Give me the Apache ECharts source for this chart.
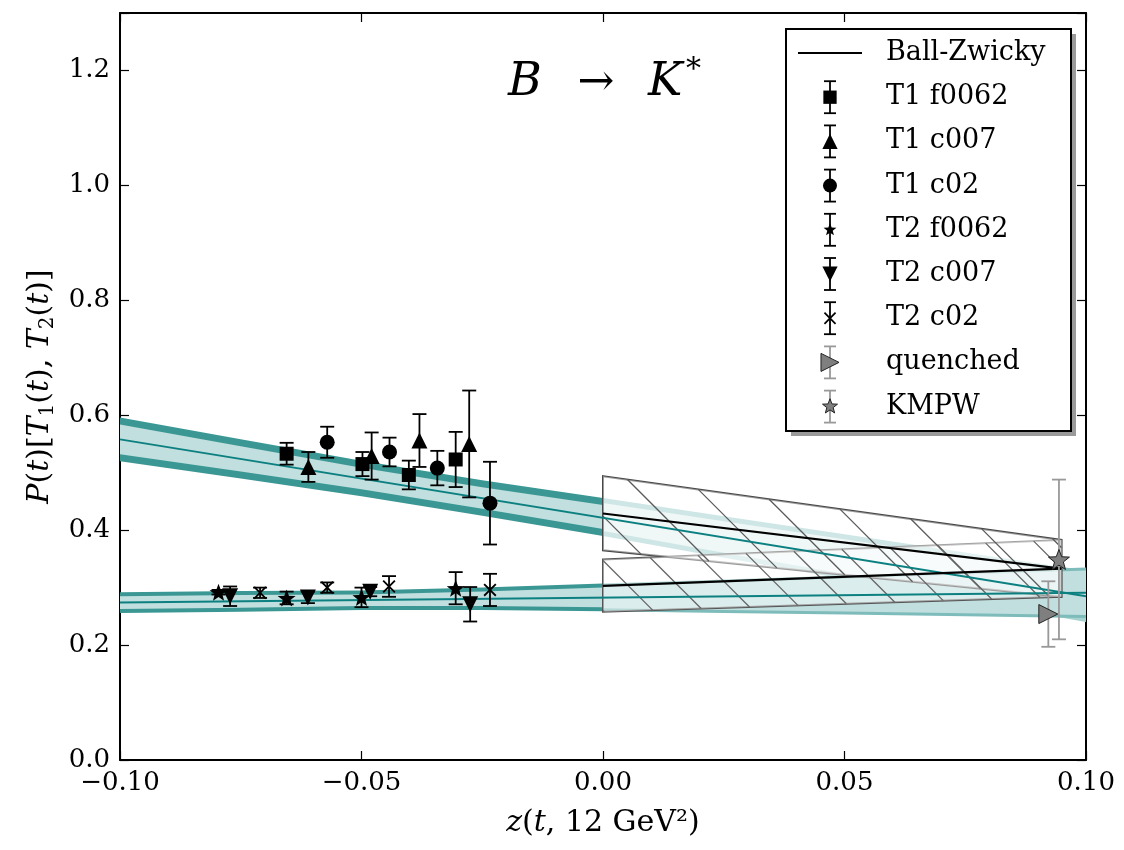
<!DOCTYPE html>
<html>
<head>
<meta charset="utf-8">
<script src="https://cdn.jsdelivr.net/npm/echarts@6/dist/echarts.min.js"></script>
<style>
  html, body { margin: 0; padding: 0; background: #fff; }
  #chart { width: 1124px; height: 850px; }
</style>
</head>
<body>
<div id="chart"></div>
<script>
// ---------------- data ----------------
const xTicks = [-0.10, -0.05, 0.00, 0.05, 0.10];
const yTicks = [0.0, 0.2, 0.4, 0.6, 0.8, 1.0, 1.2];

// lattice points: [z, value, error]
const t1_f0062 = [[-0.0655, 0.533, 0.019], [-0.0498, 0.515, 0.021], [-0.0402, 0.496, 0.025], [-0.0305, 0.523, 0.048]];
const t1_c007  = [[-0.0610, 0.510, 0.026], [-0.0479, 0.529, 0.041], [-0.0380, 0.556, 0.046], [-0.0277, 0.550, 0.093]];
const t1_c02   = [[-0.0571, 0.553, 0.027], [-0.0442, 0.536, 0.025], [-0.0343, 0.508, 0.030], [-0.0234, 0.447, 0.072]];
const t2_f0062 = [[-0.0796, 0.292, 0.004], [-0.0655, 0.282, 0.011], [-0.0500, 0.283, 0.017], [-0.0305, 0.299, 0.028]];
const t2_c007  = [[-0.0772, 0.285, 0.017], [-0.0611, 0.283, 0.010], [-0.0482, 0.293, 0.008], [-0.0275, 0.271, 0.030]];
const t2_c02   = [[-0.0710, 0.291, 0.009], [-0.0571, 0.300, 0.009], [-0.0443, 0.302, 0.018], [-0.0234, 0.296, 0.028]];
const quenched = [[0.0922, 0.254, 0.057]];
const kmpw     = [[0.0944, 0.349, 0.139]];

// z-expansion fit bands (upper / lower edge) and central lines
const bandZ   = [-0.100, -0.075, -0.050, -0.025, 0.000, 0.025, 0.050, 0.075, 0.100];
const t1Upper = [0.596, 0.558, 0.521, 0.487, 0.456, 0.424, 0.393, 0.361, 0.330];
const t1Lower = [0.520, 0.490, 0.459, 0.425, 0.390, 0.352, 0.315, 0.277, 0.240];
const t2Upper = [0.292, 0.294, 0.295, 0.300, 0.307, 0.314, 0.321, 0.328, 0.335];
const t2Lower = [0.256, 0.258, 0.261, 0.261, 0.259, 0.256, 0.253, 0.250, 0.247];
const fitZ      = [-0.100, 0.100];
const t1Central = [0.558, 0.285];
const t2Central = [0.274, 0.291];

// Ball-Zwicky light-cone sum rule ranges
const bzZ         = [0.000, 0.0949];
const bzT1Upper   = [0.494, 0.383];
const bzT1Lower   = [0.365, 0.284];
const bzT2Upper   = [0.349, 0.383];
const bzT2Lower   = [0.258, 0.284];
const bzT1Central = [0.429, 0.333];
const bzT2Central = [0.303, 0.333];

const legendLabels = ['Ball-Zwicky', 'T1 f0062', 'T1 c007', 'T1 c02', 'T2 f0062', 'T2 c007', 'T2 c02', 'quenched', 'KMPW'];

// ---------------- styling helpers ----------------
const FONT = '"DejaVu Serif", "Liberation Serif", serif';
const TEAL = '#0c8080';

function starPoly() {
  const pts = [];
  for (let i = 0; i < 10; i++) {
    const a = (-90 + 36 * i) * Math.PI / 180;
    const r = i % 2 === 0 ? 1 : 0.42;
    pts.push([r * Math.cos(a), r * Math.sin(a)]);
  }
  return pts;
}
function crossPoly(a) {
  return [[-1, -1 + a], [-1 + a, -1], [0, -a], [1 - a, -1], [1, -1 + a], [a, 0],
          [1, 1 - a], [1 - a, 1], [0, a], [-1 + a, 1], [-1, 1 - a], [-a, 0]];
}
const SHAPES = {
  square: [[-1, -1], [1, -1], [1, 1], [-1, 1]],
  triUp: [[0, -1], [1, 1], [-1, 1]],
  triDown: [[-1, -1], [1, -1], [0, 1]],
  triRight: [[-1, -1], [1, 0], [-1, 1]],
  star: starPoly(),
  cross: crossPoly(0.2)
};
function toPath(poly) {
  return 'path://' + poly.map((p, i) => (i ? 'L' : 'M') + ((p[0] + 1) * 50).toFixed(2) + ' ' + ((p[1] + 1) * 50).toFixed(2)).join(' ') + ' Z';
}

// filled band with darker stripes along both edges
function bandSeries(up, lo, i0, i1, stripeColor, fillColor, stripePx, z) {
  return {
    type: 'custom', coordinateSystem: 'cartesian2d', z: z, silent: true, clip: true,
    data: [[bandZ[i0], up[i0]]],
    renderItem: function (params, api) {
      const top = [], bot = [];
      for (let i = i0; i <= i1; i++) {
        top.push(api.coord([bandZ[i], up[i]]));
        bot.push(api.coord([bandZ[i], lo[i]]));
      }
      const outer = top.concat(bot.slice().reverse());
      const inner = top.map(p => [p[0], p[1] + stripePx]).concat(bot.map(p => [p[0], p[1] - stripePx]).reverse());
      return { type: 'group', children: [
        { type: 'polygon', shape: { points: outer }, style: { fill: stripeColor } },
        { type: 'polygon', shape: { points: inner }, style: { fill: fillColor } }
      ] };
    }
  };
}

// corners of a Ball-Zwicky box in pixels
function boxCorners(api, up, lo) {
  return {
    tl: api.coord([bzZ[0], up[0]]), tr: api.coord([bzZ[1], up[1]]),
    bl: api.coord([bzZ[0], lo[0]]), br: api.coord([bzZ[1], lo[1]])
  };
}
function hatchLines(c, spacing, phase, color) {
  const xL = c.tl[0], xR = c.tr[0];
  const mt = (c.tr[1] - c.tl[1]) / (xR - xL);
  const mb = (c.br[1] - c.bl[1]) / (xR - xL);
  const c0 = c.tl[1] - xL + phase;
  const cMin = Math.min(c.tl[1] - xL, c.tr[1] - xR);
  const cMax = Math.max(c.bl[1] - xL, c.br[1] - xR);
  const out = [];
  const k0 = Math.floor((cMin - c0) / spacing) - 1, k1 = Math.ceil((cMax - c0) / spacing) + 1;
  for (let k = k0; k <= k1; k++) {
    const cc = c0 + k * spacing;
    const lo = Math.max(xL, (c.tl[1] - xL * mt - cc) / (1 - mt));
    const hi = Math.min(xR, (c.bl[1] - xL * mb - cc) / (1 - mb));
    if (hi > lo + 0.5) {
      out.push({ type: 'line', shape: { x1: lo, y1: lo + cc, x2: hi, y2: hi + cc },
                 style: { stroke: color, lineWidth: 1.3 } });
    }
  }
  return out;
}
const BOXES = [
  { up: bzT1Upper, lo: bzT1Lower, spacing: 61, phase: -21, edge: '#484848', hatch: '#5a5a5a' },
  { up: bzT2Upper, lo: bzT2Lower, spacing: 50, phase: 1, edge: '#555555', hatch: '#666666' }
];
function boxSeries(part, z) {
  return {
    type: 'custom', coordinateSystem: 'cartesian2d', z: z, silent: true,
    data: BOXES.map(b => [bzZ[0], b.up[0]]),
    renderItem: function (params, api) {
      const b = BOXES[params.dataIndex];
      const c = boxCorners(api, b.up, b.lo);
      const poly = [c.tl, c.tr, c.br, c.bl];
      if (part === 'edge') {
        return { type: 'polygon', shape: { points: poly }, style: { fill: 'none', stroke: b.edge, lineWidth: 2 } };
      }
      if (part === 'fill') {
        return { type: 'polygon', shape: { points: poly }, style: { fill: 'rgba(255,255,255,0.45)' } };
      }
      return { type: 'group', children: hatchLines(c, b.spacing, b.phase, b.hatch) };
    }
  };
}

function lineSeries(zs, vs, color, width, z) {
  return {
    type: 'line', z: z, silent: true, showSymbol: false, symbol: 'none',
    data: zs.map((x, i) => [x, vs[i]]),
    lineStyle: { color: color, width: width }
  };
}

function errorBarSeries(pts, color, z) {
  return {
    type: 'custom', coordinateSystem: 'cartesian2d', z: z, silent: true,
    data: pts.map(d => [d[0], d[1], d[2]]),
    encode: { x: 0, y: 1 },
    renderItem: function (params, api) {
      const x = api.value(0), v = api.value(1), e = api.value(2);
      const hi = api.coord([x, v + e]), lo = api.coord([x, v - e]);
      const cap = 7, st = { stroke: color, lineWidth: 1.8 };
      return { type: 'group', children: [
        { type: 'line', shape: { x1: hi[0], y1: hi[1], x2: lo[0], y2: lo[1] }, style: st },
        { type: 'line', shape: { x1: hi[0] - cap, y1: hi[1], x2: hi[0] + cap, y2: hi[1] }, style: st },
        { type: 'line', shape: { x1: lo[0] - cap, y1: lo[1], x2: lo[0] + cap, y2: lo[1] }, style: st }
      ] };
    }
  };
}

function markerSeries(pts, symbol, size, itemStyle, z) {
  return {
    type: 'scatter', z: z, silent: true,
    data: pts.map(d => [d[0], d[1]]),
    symbol: symbol, symbolSize: size, symbolKeepAspect: true,
    itemStyle: Object.assign({ opacity: 1 }, itemStyle)
  };
}

const BLACK = { color: '#000' };
const GREY_MARK = { color: '#7f7f7f', borderColor: '#222', borderWidth: 1 };

const MARKERS = [
  { pts: t1_f0062, shape: 'square', size: 14, style: BLACK, bar: '#000' },
  { pts: t1_c007,  shape: 'triUp', size: 16, style: BLACK, bar: '#000' },
  { pts: t1_c02,   shape: 'circle', size: 15, style: BLACK, bar: '#000' },
  { pts: t2_f0062, shape: 'star', size: 18, style: BLACK, bar: '#000' },
  { pts: t2_c007,  shape: 'triDown', size: 16, style: BLACK, bar: '#000' },
  { pts: t2_c02,   shape: 'cross', size: 13, style: BLACK, bar: '#000' },
  { pts: quenched, shape: 'triRight', size: 19, style: GREY_MARK, bar: '#999' },
  { pts: kmpw,     shape: 'star', size: 21, style: GREY_MARK, bar: '#999' }
];

// ---------------- series ----------------
const series = [
  bandSeries(t1Upper, t1Lower, 0, 4, '#3b9794', '#c0dfde', 7, 1),
  bandSeries(t1Upper, t1Lower, 4, 8, '#a6d2d0', '#e3f1f0', 5, 1),
  bandSeries(t2Upper, t2Lower, 0, 4, '#3b9794', '#c0dfde', 4, 1),
  bandSeries(t2Upper, t2Lower, 4, 8, '#7dbcba', '#c0dfde', 3, 1),
  boxSeries('edge', 2),
  boxSeries('fill', 3),
  boxSeries('hatch', 4),
  lineSeries(fitZ, t1Central, TEAL, 2, 5),
  lineSeries(fitZ, t2Central, TEAL, 2, 5),
  lineSeries(bzZ, bzT1Central, '#000', 2.2, 5),
  lineSeries(bzZ, bzT2Central, '#000', 2.2, 5)
];
MARKERS.forEach(m => {
  series.push(errorBarSeries(m.pts, m.bar, 6));
  series.push(markerSeries(m.pts, m.shape === 'circle' ? 'circle' : toPath(SHAPES[m.shape]), m.size, m.style, 7));
});

// ---------------- legend + title (graphic) ----------------
const graphic = [];
const LX = 786, LY = 29, LW = 285, LH = 402;
graphic.push({ type: 'rect', z: 100, shape: { x: LX + 5, y: LY + 5, width: LW, height: LH },
  style: { fill: '#9a9a9a' } });
graphic.push({ type: 'rect', z: 101, shape: { x: LX, y: LY, width: LW, height: LH },
  style: { fill: '#fff', stroke: '#000', lineWidth: 2 } });
legendLabels.forEach((label, i) => {
  const cy = 53 + i * 44.2, cx = 830;
  graphic.push({ type: 'text', z: 102, style: { text: label, x: 886, y: cy, fill: '#000',
    font: '27px ' + FONT, textAlign: 'left', textVerticalAlign: 'middle' } });
  if (i === 0) {
    graphic.push({ type: 'line', z: 102, shape: { x1: 798, y1: cy, x2: 862, y2: cy },
      style: { stroke: '#000', lineWidth: 2 } });
    return;
  }
  const m = MARKERS[i - 1];
  const st = { stroke: m.bar, lineWidth: 1.8 };
  graphic.push({ type: 'line', z: 102, shape: { x1: cx, y1: cy - 16, x2: cx, y2: cy + 16 }, style: st });
  graphic.push({ type: 'line', z: 102, shape: { x1: cx - 6, y1: cy - 16, x2: cx + 6, y2: cy - 16 }, style: st });
  graphic.push({ type: 'line', z: 102, shape: { x1: cx - 6, y1: cy + 16, x2: cx + 6, y2: cy + 16 }, style: st });
  const fill = m.style.color;
  const stroke = m.style.borderColor || null;
  const r = m.size / 2;
  if (m.shape === 'circle') {
    graphic.push({ type: 'circle', z: 103, shape: { cx: cx, cy: cy, r: r - 0.5 }, style: { fill: fill } });
  } else {
    const poly = SHAPES[m.shape];
    let rr = r * 0.95;
    if (m.shape === 'star') rr = r * 0.75;
    graphic.push({ type: 'polygon', z: 103,
      shape: { points: poly.map(p => [cx + p[0] * rr, cy + p[1] * rr]) },
      style: { fill: fill, stroke: stroke, lineWidth: stroke ? 1 : 0 } });
  }
});

// process label
graphic.push({ type: 'text', z: 100, style: { text: 'B', x: 508, y: 83, fill: '#000',
  font: 'italic 46px ' + FONT, textAlign: 'left', textVerticalAlign: 'middle' } });
graphic.push({ type: 'text', z: 100, style: { text: '\u2192', x: 596, y: 84, fill: '#000',
  font: '44px ' + FONT, textAlign: 'center', textVerticalAlign: 'middle' } });
graphic.push({ type: 'text', z: 100, style: { text: 'K', x: 648, y: 83, fill: '#000',
  font: 'italic 46px ' + FONT, textAlign: 'left', textVerticalAlign: 'middle' } });
graphic.push({ type: 'text', z: 100, style: { text: '*', x: 686, y: 70, fill: '#000',
  font: '30px ' + FONT, textAlign: 'left', textVerticalAlign: 'middle' } });

// ---------------- axes ----------------
const tickStyle = { inside: true, length: 9, lineStyle: { color: '#000', width: 1.2 } };
const frameLine = { show: true, onZero: false, lineStyle: { color: '#000', width: 2 } };
const labelStyle = { color: '#000', fontFamily: FONT, fontSize: 26 };

const option = {
  animation: false,
  backgroundColor: '#fff',
  grid: { left: 120, top: 13, right: 38, bottom: 90, containLabel: false },
  xAxis: [
    {
      type: 'value', min: xTicks[0], max: xTicks[xTicks.length - 1], interval: 0.05,
      position: 'bottom', axisLine: frameLine, axisTick: tickStyle, splitLine: { show: false },
      axisLabel: Object.assign({ margin: 10,
        formatter: v => (v < 0 ? '\u2212' : '') + Math.abs(v).toFixed(2) }, labelStyle),
      name: '{i|z}({i|t}, 12 GeV\u00B2)',
      nameLocation: 'middle', nameGap: 48,
      nameTextStyle: { color: '#000', fontFamily: FONT, fontSize: 30,
        rich: { i: { fontStyle: 'italic', fontFamily: FONT, fontSize: 30, color: '#000' } } }
    },
    {
      type: 'value', min: xTicks[0], max: xTicks[xTicks.length - 1], interval: 0.05,
      position: 'top', axisLine: frameLine, axisTick: tickStyle, splitLine: { show: false },
      axisLabel: { show: false }
    }
  ],
  yAxis: [
    {
      type: 'value', min: 0, max: 1.3, interval: 0.2,
      position: 'left', axisLine: frameLine, axisTick: tickStyle, splitLine: { show: false },
      axisLabel: Object.assign({ margin: 10,
        formatter: v => (yTicks.some(t => Math.abs(t - v) < 1e-9) ? v.toFixed(1) : '') }, labelStyle),
      name: '{i|P}({i|t})[{i|T}{s|1}({i|t}), {i|T}{s|2}({i|t})]',
      nameLocation: 'middle', nameGap: 60, nameRotate: 90,
      nameTextStyle: { color: '#000', fontFamily: FONT, fontSize: 30, lineHeight: 36,
        rich: {
          i: { fontStyle: 'italic', fontFamily: FONT, fontSize: 30, color: '#000', lineHeight: 36 },
          s: { fontFamily: FONT, fontSize: 20, color: '#000', lineHeight: 20, verticalAlign: 'bottom' }
        } }
    },
    {
      type: 'value', min: 0, max: 1.3, interval: 0.2,
      position: 'right', axisLine: frameLine, axisTick: tickStyle, splitLine: { show: false },
      axisLabel: { show: false }
    }
  ],
  series: series,
  graphic: graphic
};

const chart = echarts.init(document.getElementById('chart'), null, { renderer: 'canvas' });
chart.setOption(option);
</script>
</body>
</html>
